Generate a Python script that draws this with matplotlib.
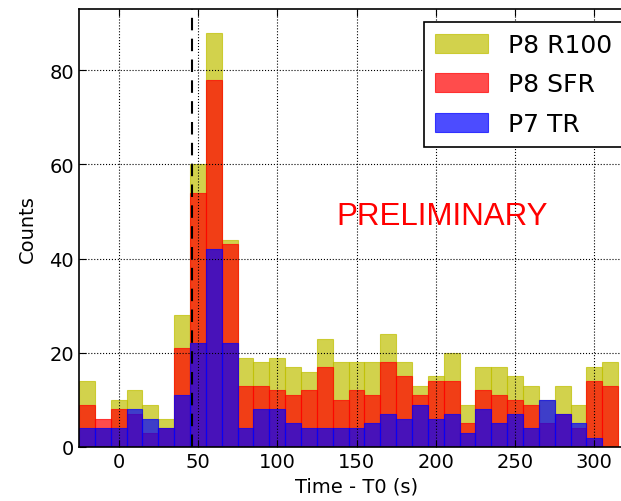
import matplotlib
matplotlib.use("Agg")
import matplotlib.pyplot as plt
import numpy as np

# 10 s bins starting at -25 s
bin_edges = np.arange(-25, 316, 10)

# counts per bin
p8_r100 = [14, 4, 10, 12, 9, 6, 28, 60, 88, 44, 19, 18, 19, 17, 16, 23, 18,
           18, 18, 24, 18, 13, 15, 20, 9, 17, 17, 15, 13, 10, 13, 9, 17, 18]
p8_sfr = [9, 6, 8, 7, 3, 4, 21, 54, 78, 43, 13, 13, 12, 11, 12, 17, 10,
          12, 11, 18, 15, 11, 14, 14, 5, 12, 11, 10, 9, 5, 7, 4, 14, 13]
p7_tr = [4, 4, 4, 8, 6, 4, 11, 22, 42, 22, 4, 8, 8, 5, 4, 4, 4,
         4, 5, 7, 6, 9, 6, 7, 3, 8, 5, 7, 4, 10, 7, 5, 2, 0]

series = [("P8 R100", p8_r100, "y"), ("P8 SFR", p8_sfr, "r"), ("P7 TR", p7_tr, "b")]
trigger_time = 46
x_ticks = [0, 50, 100, 150, 200, 250, 300]
y_ticks = [0, 20, 40, 60, 80]

fig = plt.figure(figsize=(6.21, 5.02), dpi=100)
ax = fig.add_axes([79 / 621, 54 / 502, 555 / 621, 438 / 502])

for label, counts, color in series:
    ax.bar(bin_edges[:-1], counts, width=10, align="edge", color=color,
           edgecolor=color, alpha=0.7, linewidth=0.8, label=label)

ax.axvline(trigger_time, color="k", linestyle=(0, (6, 4)), linewidth=1.5)

ax.set_xlim(-25, 325)
ax.set_ylim(0, 93)
ax.set_xticks(x_ticks)
ax.set_yticks(y_ticks)
ax.grid(True, linestyle=":", color="k", linewidth=0.8)
ax.set_axisbelow(False)
ax.tick_params(direction="in", top=True, right=True, labelsize=14, length=5)
ax.set_xlabel("Time - T0 (s)", fontsize=14, labelpad=4)
ax.set_ylabel("Counts", fontsize=14, labelpad=9)

ax.text(204, 49, "PRELIMINARY", color="red", fontsize=22.5,
        family="Liberation Sans", ha="center", va="center")

leg = ax.legend(loc="upper left", bbox_to_anchor=(424 / 621, 1 - 22.7 / 502),
                bbox_transform=fig.transFigure, borderaxespad=0, fontsize=18,
                fancybox=False, framealpha=1, edgecolor="k",
                handlelength=2.1, handleheight=0.8, labelspacing=0.62,
                handletextpad=0.8, borderpad=0.45)
leg.get_frame().set_linewidth(1.2)

for s in ax.spines.values():
    s.set_linewidth(1.2)

fig.savefig("out.png", dpi=100)
